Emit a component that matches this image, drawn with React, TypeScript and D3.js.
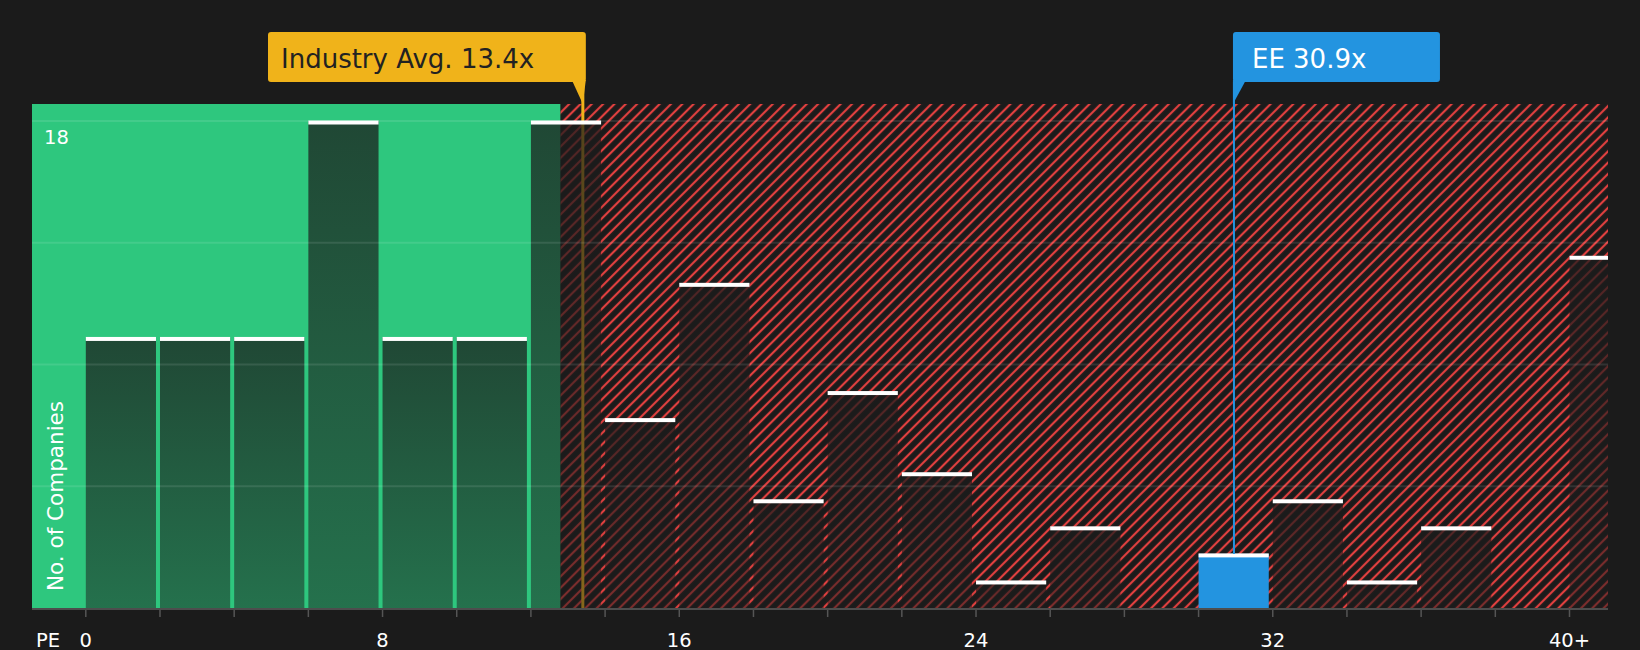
import * as d3 from 'd3'
import * as React from 'react'

// Histogram of PE ratios, bins of width 2 (the last bin is "40+")
const binStarts = [0, 2, 4, 6, 8, 10, 12, 14, 16, 18, 20, 22, 24, 26, 28, 30, 32, 34, 36, 38, 40]
const companyCounts = [10, 10, 10, 18, 10, 10, 18, 7, 12, 4, 8, 5, 1, 3, 0, 2, 4, 1, 3, 0, 13]
const tickValues = [0, 8, 16, 24, 32, 40]
const tickLabels = ['0', '8', '16', '24', '32', '40+']
const gridValues = [4.5, 9, 13.5, 18]
const industryAvg = 13.4
const companyPE = 30.9
const companyLabel = 'EE'
const fairLimit = 12.8
const binWidth = 2

const W = 1640
const H = 650
const plotLeft = 32
const plotRight = 1608
const plotTop = 104
const baseline = 608
const boxTop = 32
const boxBottom = 82

const bg = '#1b1b1b'
const green = '#2ec77e'
const red = '#e0403f'
const orange = '#f0b31a'
const blue = '#2394e0'
const font = '"DejaVu Sans", Verdana, sans-serif'

export default function App() {
  const x = d3.scaleLinear().domain([0, 40]).range([85.8, 1569.5])
  const y = d3.scaleLinear().domain([0, 18]).range([baseline, 121])

  const avgX = x(industryAvg)
  const peX = x(companyPE) + 2
  const ticks = d3.range(0, 41, binWidth)
  const peBin = binStarts.findIndex(b => companyPE >= b && companyPE < b + binWidth)

  return (
    <svg width={W} height={H} style={{ position: 'absolute', left: 0, top: 0, display: 'block' }}>
      <defs>
        <clipPath id="plot">
          <rect x={plotLeft} y={plotTop} width={plotRight - plotLeft} height={baseline - plotTop} />
        </clipPath>
        <pattern id="hatch" width={8} height={8} patternUnits="userSpaceOnUse" patternTransform="rotate(45)">
          <rect width={8} height={8} fill={bg} />
          <line x1={4} y1={0} x2={4} y2={8} stroke={red} strokeWidth={2.2} />
        </pattern>
        <linearGradient id="barFill" x1="0" y1="0" x2="0" y2="1">
          <stop offset="0%" stopColor={bg} stopOpacity={0.74} />
          <stop offset="100%" stopColor={bg} stopOpacity={0.5} />
        </linearGradient>
      </defs>

      <rect width={W} height={H} fill={bg} />

      {/* valuation zones */}
      <rect x={plotLeft} y={plotTop} width={x(fairLimit) - plotLeft} height={baseline - plotTop} fill={green} />
      <rect x={x(fairLimit)} y={plotTop} width={plotRight - x(fairLimit)} height={baseline - plotTop} fill="url(#hatch)" />

      {/* industry average marker, behind the bars */}
      <line x1={avgX} x2={avgX} y1={boxBottom} y2={baseline} stroke={orange} strokeWidth={3} />

      <g clipPath="url(#plot)">
        {binStarts.map((b, i) => {
          const v = companyCounts[i]
          if (!v) return null
          const x0 = x(b)
          const w = x(b + binWidth) - x0 - 4
          return (
            <g key={b}>
              <rect x={x0} y={y(v)} width={w} height={baseline - y(v)}
                fill={i === peBin ? blue : 'url(#barFill)'} />
              <rect x={x0} y={y(v) - 0.5} width={w} height={4} fill="#ffffff" />
            </g>
          )
        })}
        {gridValues.map(g => (
          <line key={g} x1={plotLeft} x2={plotRight} y1={y(g)} y2={y(g)}
            stroke="#ffffff" strokeOpacity={0.1} strokeWidth={2} />
        ))}
      </g>

      {/* company marker */}
      <line x1={peX} x2={peX} y1={boxBottom} y2={y(companyCounts[peBin])} stroke={blue} strokeWidth={2} />

      {/* x axis */}
      <line x1={plotLeft} x2={plotRight} y1={baseline + 1} y2={baseline + 1} stroke="#4d4d4d" strokeWidth={2} />
      {ticks.map(t => (
        <line key={t} x1={x(t)} x2={x(t)} y1={baseline + 2} y2={baseline + 9} stroke="#555" strokeWidth={1.5} />
      ))}
      {tickValues.map((t, i) => (
        <text key={t} x={x(t)} y={647} fill="#ffffff" fontFamily={font} fontSize={19.5} textAnchor="middle">
          {tickLabels[i]}
        </text>
      ))}
      <text x={36} y={647} fill="#ffffff" fontFamily={font} fontSize={19.5}>PE</text>

      {/* y labels */}
      <text x={44} y={144} fill="#ffffff" fontFamily={font} fontSize={19.5}>18</text>
      <text transform={`translate(63,591) rotate(-90)`} fill="#ffffff" fontFamily={font} fontSize={21.5}>
        No. of Companies
      </text>

      {/* industry avg callout */}
      <path d={`M${avgX + 3},${boxBottom - 2} L${avgX - 11},${boxBottom - 2} L${avgX},${plotTop} Z`} fill={orange} />
      <rect x={268} y={boxTop} width={avgX + 3 - 268} height={boxBottom - boxTop} rx={3} fill={orange} />
      <text x={281} y={68} fill="#222" fontFamily={font} fontSize={26}>Industry Avg. {industryAvg}x</text>

      {/* company callout */}
      <path d={`M${peX - 1},${boxBottom - 2} L${peX + 12},${boxBottom - 2} L${peX - 1},${plotTop} Z`} fill={blue} />
      <rect x={peX - 1} y={boxTop} width={207} height={boxBottom - boxTop} rx={3} fill={blue} />
      <text x={peX + 18} y={68} fill="#ffffff" fontFamily={font} fontSize={26}>{companyLabel} {companyPE}x</text>
    </svg>
  )
}
